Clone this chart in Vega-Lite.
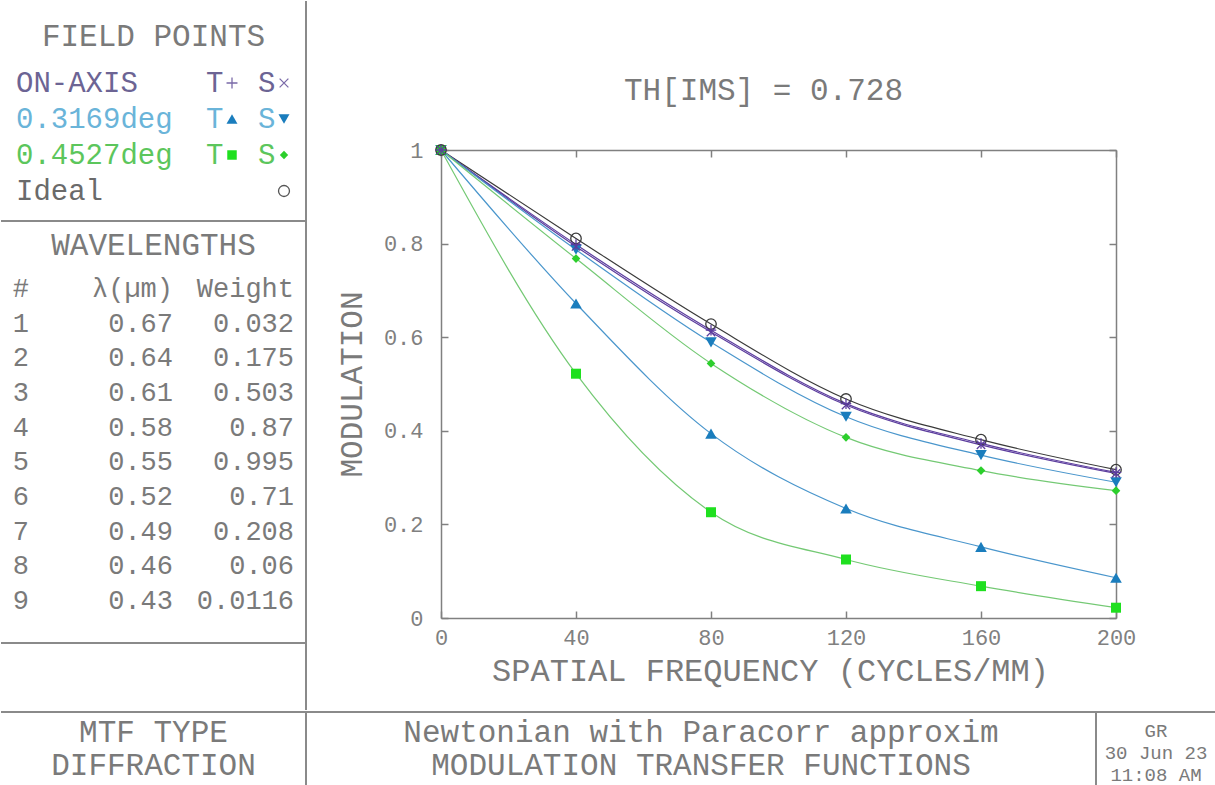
{
  "$schema": "https://vega.github.io/schema/vega-lite/v6.json",
  "padding": 0,
  "background": "white",
  "config": {
    "view": {"stroke": null},
    "font": "Liberation Mono",
    "axis": {"grid": false},
    "text": {"font": "Liberation Mono"}
  },
  "datasets": {
    "mtf": [
      {"series": "ideal", "freq": 0, "mtf": 1}, {"series": "ideal", "freq": 40, "mtf": 0.811}, {"series": "ideal", "freq": 80, "mtf": 0.628}, {"series": "ideal", "freq": 120, "mtf": 0.468}, {"series": "ideal", "freq": 160, "mtf": 0.381}, {"series": "ideal", "freq": 200, "mtf": 0.317},
      {"series": "onT", "freq": 0, "mtf": 1}, {"series": "onT", "freq": 40, "mtf": 0.798}, {"series": "onT", "freq": 80, "mtf": 0.615}, {"series": "onT", "freq": 120, "mtf": 0.458}, {"series": "onT", "freq": 160, "mtf": 0.373}, {"series": "onT", "freq": 200, "mtf": 0.311},
      {"series": "onS", "freq": 0, "mtf": 1}, {"series": "onS", "freq": 40, "mtf": 0.794}, {"series": "onS", "freq": 80, "mtf": 0.611}, {"series": "onS", "freq": 120, "mtf": 0.455}, {"series": "onS", "freq": 160, "mtf": 0.370}, {"series": "onS", "freq": 200, "mtf": 0.309},
      {"series": "f1T", "freq": 0, "mtf": 1}, {"series": "f1T", "freq": 40, "mtf": 0.672}, {"series": "f1T", "freq": 80, "mtf": 0.394}, {"series": "f1T", "freq": 120, "mtf": 0.234}, {"series": "f1T", "freq": 160, "mtf": 0.152}, {"series": "f1T", "freq": 200, "mtf": 0.086},
      {"series": "f1S", "freq": 0, "mtf": 1}, {"series": "f1S", "freq": 40, "mtf": 0.787}, {"series": "f1S", "freq": 80, "mtf": 0.589}, {"series": "f1S", "freq": 120, "mtf": 0.430}, {"series": "f1S", "freq": 160, "mtf": 0.348}, {"series": "f1S", "freq": 200, "mtf": 0.290},
      {"series": "f2T", "freq": 0, "mtf": 1}, {"series": "f2T", "freq": 40, "mtf": 0.522}, {"series": "f2T", "freq": 80, "mtf": 0.226}, {"series": "f2T", "freq": 120, "mtf": 0.125}, {"series": "f2T", "freq": 160, "mtf": 0.068}, {"series": "f2T", "freq": 200, "mtf": 0.022},
      {"series": "f2S", "freq": 0, "mtf": 1}, {"series": "f2S", "freq": 40, "mtf": 0.768}, {"series": "f2S", "freq": 80, "mtf": 0.544}, {"series": "f2S", "freq": 120, "mtf": 0.386}, {"series": "f2S", "freq": 160, "mtf": 0.315}, {"series": "f2S", "freq": 200, "mtf": 0.272}
    ],
    "fp": [
      {"r": 1, "c": 0, "t": "ON-AXIS", "g": "on"}, {"r": 1, "c": 1, "t": "T", "g": "on"}, {"r": 1, "c": 2, "t": "S", "g": "on"},
      {"r": 2, "c": 0, "t": "0.3169deg", "g": "f1"}, {"r": 2, "c": 1, "t": "T", "g": "f1"}, {"r": 2, "c": 2, "t": "S", "g": "f1"},
      {"r": 3, "c": 0, "t": "0.4527deg", "g": "f2"}, {"r": 3, "c": 1, "t": "T", "g": "f2"}, {"r": 3, "c": 2, "t": "S", "g": "f2"},
      {"r": 4, "c": 0, "t": "Ideal", "g": "ideal"}
    ],
    "fpm": [
      {"r": 1, "c": 1, "series": "onT"}, {"r": 1, "c": 2, "series": "onS"},
      {"r": 2, "c": 1, "series": "f1T"}, {"r": 2, "c": 2, "series": "f1S"},
      {"r": 3, "c": 1, "series": "f2T"}, {"r": 3, "c": 2, "series": "f2S"},
      {"r": 4, "c": 2, "series": "ideal"}
    ],
    "wl": [
      {"r": 0, "c": 1, "t": "#"}, {"r": 0, "c": 2, "t": "λ(µm)"}, {"r": 0, "c": 3, "t": "Weight"},
      {"r": 1, "c": 1, "t": "1"}, {"r": 1, "c": 2, "t": "0.67"}, {"r": 1, "c": 3, "t": "0.032"},
      {"r": 2, "c": 1, "t": "2"}, {"r": 2, "c": 2, "t": "0.64"}, {"r": 2, "c": 3, "t": "0.175"},
      {"r": 3, "c": 1, "t": "3"}, {"r": 3, "c": 2, "t": "0.61"}, {"r": 3, "c": 3, "t": "0.503"},
      {"r": 4, "c": 1, "t": "4"}, {"r": 4, "c": 2, "t": "0.58"}, {"r": 4, "c": 3, "t": "0.87"},
      {"r": 5, "c": 1, "t": "5"}, {"r": 5, "c": 2, "t": "0.55"}, {"r": 5, "c": 3, "t": "0.995"},
      {"r": 6, "c": 1, "t": "6"}, {"r": 6, "c": 2, "t": "0.52"}, {"r": 6, "c": 3, "t": "0.71"},
      {"r": 7, "c": 1, "t": "7"}, {"r": 7, "c": 2, "t": "0.49"}, {"r": 7, "c": 3, "t": "0.208"},
      {"r": 8, "c": 1, "t": "8"}, {"r": 8, "c": 2, "t": "0.46"}, {"r": 8, "c": 3, "t": "0.06"},
      {"r": 9, "c": 1, "t": "9"}, {"r": 9, "c": 2, "t": "0.43"}, {"r": 9, "c": 3, "t": "0.0116"}
    ]
  },
  "spacing": 0,
  "bounds": "full",
  "resolve": {"scale": {"x": "independent", "y": "independent", "color": "independent", "stroke": "independent", "fill": "independent", "shape": "independent"}},
  "vconcat": [
    {
      "hconcat": [
        {
          "vconcat": [
            {
              "width": 305, "height": 220,
              "layer": [
                {"data": {"values": [{}]}, "mark": {"type": "rule", "color": "#8a8a8a", "strokeWidth": 2}, "encoding": {"x": {"value": "width"}}},
                {"data": {"values": [{}]}, "mark": {"type": "rule", "color": "#8a8a8a", "strokeWidth": 2}, "encoding": {"y": {"value": "height"}}},
                {
                  "data": {"values": [{"r": 0, "t": "FIELD POINTS"}]},
                  "mark": {"type": "text", "fontSize": 31, "align": "center", "baseline": "middle", "yOffset": -10, "color": "#7a7a7a"},
                  "encoding": {
                    "y": {"field": "r", "type": "quantitative", "scale": {"domain": [1, 4], "range": [82, 190]}, "axis": null},
                    "text": {"field": "t"}
                  }
                },
                {
                  "data": {"name": "fp"},
                  "mark": {"type": "text", "fontSize": 29, "align": "left", "baseline": "middle"},
                  "encoding": {
                    "x": {"field": "c", "type": "quantitative", "scale": {"domain": [0, 1, 2], "range": [15, 205, 257]}, "axis": null},
                    "y": {"field": "r", "type": "quantitative", "scale": {"domain": [1, 4], "range": [82, 190]}, "axis": null},
                    "text": {"field": "t"},
                    "color": {"field": "g", "type": "nominal", "scale": {"domain": ["on", "f1", "f2", "ideal"], "range": ["#6c6494", "#6ab4d9", "#5cc65c", "#6a6a6a"]}, "legend": null}
                  }
                },
                {
                  "data": {"name": "fpm"},
                  "transform": [{"filter": {"field": "series", "oneOf": ["f1T", "f1S"]}}],
                  "mark": {"type": "point", "filled": true, "opacity": 1, "size": 120, "strokeWidth": 0, "xOffset": 26},
                  "encoding": {
                    "x": {"field": "c", "type": "quantitative", "scale": {"domain": [0, 1, 2], "range": [15, 205, 257]}, "axis": null},
                    "y": {"field": "r", "type": "quantitative", "scale": {"domain": [1, 4], "range": [82, 190]}, "axis": null},
                    "shape": {"field": "series", "type": "nominal", "scale": {"domain": ["onT", "onS", "f1T", "f1S", "f2T", "f2S", "ideal"], "range": ["M-1,0L1,0M0,-1L0,1", "M-0.8,-0.8L0.8,0.8M-0.8,0.8L0.8,-0.8", "triangle-up", "triangle-down", "square", "diamond", "circle"]}, "legend": null},
                    "fill": {"field": "series", "type": "nominal", "scale": {"domain": ["f1T", "f1S", "f2T", "f2S"], "range": ["#1a7dbd", "#1a7dbd", "#1fe01f", "#2ccf2c"]}, "legend": null}
                  }
                },
                {
                  "data": {"name": "fpm"},
                  "transform": [{"filter": {"field": "series", "oneOf": ["f2T"]}}],
                  "mark": {"type": "point", "filled": true, "opacity": 1, "size": 90, "strokeWidth": 0, "xOffset": 26},
                  "encoding": {
                    "x": {"field": "c", "type": "quantitative", "scale": {"domain": [0, 1, 2], "range": [15, 205, 257]}, "axis": null},
                    "y": {"field": "r", "type": "quantitative", "scale": {"domain": [1, 4], "range": [82, 190]}, "axis": null},
                    "shape": {"field": "series", "type": "nominal", "scale": {"domain": ["onT", "onS", "f1T", "f1S", "f2T", "f2S", "ideal"], "range": ["M-1,0L1,0M0,-1L0,1", "M-0.8,-0.8L0.8,0.8M-0.8,0.8L0.8,-0.8", "triangle-up", "triangle-down", "square", "diamond", "circle"]}, "legend": null},
                    "fill": {"field": "series", "type": "nominal", "scale": {"domain": ["f1T", "f1S", "f2T", "f2S"], "range": ["#1a7dbd", "#1a7dbd", "#1fe01f", "#2ccf2c"]}, "legend": null}
                  }
                },
                {
                  "data": {"name": "fpm"},
                  "transform": [{"filter": {"field": "series", "oneOf": ["f2S"]}}],
                  "mark": {"type": "point", "filled": true, "opacity": 1, "size": 70, "strokeWidth": 0, "xOffset": 26},
                  "encoding": {
                    "x": {"field": "c", "type": "quantitative", "scale": {"domain": [0, 1, 2], "range": [15, 205, 257]}, "axis": null},
                    "y": {"field": "r", "type": "quantitative", "scale": {"domain": [1, 4], "range": [82, 190]}, "axis": null},
                    "shape": {"field": "series", "type": "nominal", "scale": {"domain": ["onT", "onS", "f1T", "f1S", "f2T", "f2S", "ideal"], "range": ["M-1,0L1,0M0,-1L0,1", "M-0.8,-0.8L0.8,0.8M-0.8,0.8L0.8,-0.8", "triangle-up", "triangle-down", "square", "diamond", "circle"]}, "legend": null},
                    "fill": {"field": "series", "type": "nominal", "scale": {"domain": ["f1T", "f1S", "f2T", "f2S"], "range": ["#1a7dbd", "#1a7dbd", "#1fe01f", "#2ccf2c"]}, "legend": null}
                  }
                },
                {
                  "data": {"name": "fpm"},
                  "transform": [{"filter": {"field": "series", "oneOf": ["onT", "onS", "ideal"]}}],
                  "mark": {"type": "point", "filled": false, "opacity": 1, "size": 120, "strokeWidth": 1.3, "xOffset": 26},
                  "encoding": {
                    "x": {"field": "c", "type": "quantitative", "scale": {"domain": [0, 1, 2], "range": [15, 205, 257]}, "axis": null},
                    "y": {"field": "r", "type": "quantitative", "scale": {"domain": [1, 4], "range": [82, 190]}, "axis": null},
                    "shape": {"field": "series", "type": "nominal", "scale": {"domain": ["onT", "onS", "f1T", "f1S", "f2T", "f2S", "ideal"], "range": ["M-1,0L1,0M0,-1L0,1", "M-0.8,-0.8L0.8,0.8M-0.8,0.8L0.8,-0.8", "triangle-up", "triangle-down", "square", "diamond", "circle"]}, "legend": null},
                    "stroke": {"field": "series", "type": "nominal", "scale": {"domain": ["onT", "onS", "ideal"], "range": ["#7a6aa8", "#7a6aa8", "#555555"]}, "legend": null}
                  }
                }
              ]
            },
            {
              "width": 305, "height": 422,
              "layer": [
                {"data": {"values": [{}]}, "mark": {"type": "rule", "color": "#8a8a8a", "strokeWidth": 2}, "encoding": {"x": {"value": "width"}}},
                {"data": {"values": [{}]}, "mark": {"type": "rule", "color": "#8a8a8a", "strokeWidth": 2}, "encoding": {"y": {"value": "height"}}},
                {
                  "data": {"values": [{"r": -1, "t": "WAVELENGTHS"}]},
                  "mark": {"type": "text", "fontSize": 31, "align": "center", "baseline": "middle", "yOffset": -8, "color": "#7a7a7a"},
                  "encoding": {
                    "y": {"field": "r", "type": "quantitative", "scale": {"domain": [0, 9], "range": [68, 380]}, "axis": null},
                    "text": {"field": "t"}
                  }
                },
                {
                  "data": {"name": "wl"},
                  "mark": {"type": "text", "fontSize": 27, "align": "right", "baseline": "middle", "color": "#7a7a7a"},
                  "encoding": {
                    "x": {"field": "c", "type": "quantitative", "scale": {"domain": [1, 2, 3], "range": [28, 172, 293]}, "axis": null},
                    "y": {"field": "r", "type": "quantitative", "scale": {"domain": [0, 9], "range": [68, 380]}, "axis": null},
                    "text": {"field": "t"}
                  }
                }
              ]
            },
            {
              "width": 305, "height": 67,
              "layer": [
                {"data": {"values": [{}]}, "mark": {"type": "rule", "color": "#8a8a8a", "strokeWidth": 2}, "encoding": {"x": {"value": "width"}}}
              ]
            }
          ],
          "spacing": 0,
          "bounds": "flush",
          "resolve": {"scale": {"x": "independent", "y": "independent", "color": "independent", "stroke": "independent", "fill": "independent", "shape": "independent"}}
        },
        {
          "width": 809, "height": 709,
          "data": {"name": "mtf"},
          "title": {"text": "TH[IMS] = 0.728", "font": "Liberation Mono", "fontSize": 31, "fontWeight": "normal", "color": "#7a7a7a", "anchor": "middle", "dx": 52, "offset": -106},
          "resolve": {"axis": {"x": "independent", "y": "independent"}},
          "layer": [
            {
              "mark": {"type": "line", "interpolate": "monotone", "strokeWidth": 1.2},
              "encoding": {
                "x": {"field": "freq", "type": "quantitative", "scale": {"domain": [0, 200], "range": [134, 809]},
                  "axis": {"orient": "bottom", "offset": -92, "values": [0, 40, 80, 120, 160, 200], "title": "SPATIAL FREQUENCY (CYCLES/MM)", "titleX": 463, "tickSize": -7, "tickColor": "#808080", "tickWidth": 1.5, "domainColor": "#808080", "domainWidth": 1.5, "labelFont": "Liberation Mono", "labelFontSize": 22, "labelColor": "#808080", "labelPadding": 16, "labelFlush": false, "labelOverlap": false, "titleFont": "Liberation Mono", "titleFontSize": 32, "titleFontWeight": "normal", "titleColor": "#7a7a7a", "titlePadding": 7}},
                "y": {"field": "mtf", "type": "quantitative", "scale": {"domain": [0, 1], "range": [617, 149]},
                  "axis": {"orient": "left", "offset": -134, "values": [0, 0.2, 0.4, 0.6, 0.8, 1], "format": "~g", "title": "MODULATION", "tickSize": -7, "tickColor": "#808080", "tickWidth": 1.5, "domainColor": "#808080", "domainWidth": 1.5, "labelFont": "Liberation Mono", "labelFontSize": 22, "labelColor": "#808080", "labelPadding": 25, "labelFlush": false, "labelOverlap": false, "titleFont": "Liberation Mono", "titleFontSize": 31, "titleFontWeight": "normal", "titleColor": "#7a7a7a", "titlePadding": 15}},
                "stroke": {"field": "series", "type": "nominal", "scale": {"domain": ["onT", "onS", "f1T", "f1S", "f2T", "f2S", "ideal"], "range": ["#5c3d9e", "#5c3d9e", "#4a96cc", "#4a96cc", "#74c974", "#74c974", "#3a3a3a"]}, "legend": null}
              }
            },
            {
              "mark": {"type": "point", "opacity": 0},
              "encoding": {
                "x": {"field": "freq", "type": "quantitative", "scale": {"domain": [0, 200], "range": [134, 809]}, "axis": {"orient": "top", "offset": -149, "values": [0, 40, 80, 120, 160, 200], "labels": false, "title": null, "tickSize": -7, "tickColor": "#808080", "tickWidth": 1.5, "domainColor": "#808080", "domainWidth": 1.5}},
                "y": {"field": "mtf", "type": "quantitative", "scale": {"domain": [0, 1], "range": [617, 149]}, "axis": {"orient": "right", "values": [0, 0.2, 0.4, 0.6, 0.8, 1], "labels": false, "title": null, "tickSize": -7, "tickColor": "#808080", "tickWidth": 1.5, "domainColor": "#808080", "domainWidth": 1.5}}
              }
            },
            {
              "transform": [{"filter": {"field": "series", "oneOf": ["f1T", "f1S"]}}],
              "mark": {"type": "point", "filled": true, "opacity": 1, "size": 135, "strokeWidth": 0},
              "encoding": {
                "x": {"field": "freq", "type": "quantitative", "axis": null},
                "y": {"field": "mtf", "type": "quantitative", "axis": null},
                "shape": {"field": "series", "type": "nominal", "scale": {"domain": ["onT", "onS", "f1T", "f1S", "f2T", "f2S", "ideal"], "range": ["M-1,0L1,0M0,-1L0,1", "M-0.8,-0.8L0.8,0.8M-0.8,0.8L0.8,-0.8", "triangle-up", "triangle-down", "square", "diamond", "circle"]}, "legend": null},
                "fill": {"field": "series", "type": "nominal", "scale": {"domain": ["f1T", "f1S", "f2T", "f2S"], "range": ["#1a7dbd", "#1a7dbd", "#1fe01f", "#2ccf2c"]}, "legend": null}
              }
            },
            {
              "transform": [{"filter": {"field": "series", "oneOf": ["f2T"]}}],
              "mark": {"type": "point", "filled": true, "opacity": 1, "size": 100, "strokeWidth": 0},
              "encoding": {
                "x": {"field": "freq", "type": "quantitative", "axis": null},
                "y": {"field": "mtf", "type": "quantitative", "axis": null},
                "shape": {"field": "series", "type": "nominal", "scale": {"domain": ["onT", "onS", "f1T", "f1S", "f2T", "f2S", "ideal"], "range": ["M-1,0L1,0M0,-1L0,1", "M-0.8,-0.8L0.8,0.8M-0.8,0.8L0.8,-0.8", "triangle-up", "triangle-down", "square", "diamond", "circle"]}, "legend": null},
                "fill": {"field": "series", "type": "nominal", "scale": {"domain": ["f1T", "f1S", "f2T", "f2S"], "range": ["#1a7dbd", "#1a7dbd", "#1fe01f", "#2ccf2c"]}, "legend": null}
              }
            },
            {
              "transform": [{"filter": {"field": "series", "oneOf": ["f2S"]}}],
              "mark": {"type": "point", "filled": true, "opacity": 1, "size": 75, "strokeWidth": 0},
              "encoding": {
                "x": {"field": "freq", "type": "quantitative", "axis": null},
                "y": {"field": "mtf", "type": "quantitative", "axis": null},
                "shape": {"field": "series", "type": "nominal", "scale": {"domain": ["onT", "onS", "f1T", "f1S", "f2T", "f2S", "ideal"], "range": ["M-1,0L1,0M0,-1L0,1", "M-0.8,-0.8L0.8,0.8M-0.8,0.8L0.8,-0.8", "triangle-up", "triangle-down", "square", "diamond", "circle"]}, "legend": null},
                "fill": {"field": "series", "type": "nominal", "scale": {"domain": ["f1T", "f1S", "f2T", "f2S"], "range": ["#1a7dbd", "#1a7dbd", "#1fe01f", "#2ccf2c"]}, "legend": null}
              }
            },
            {
              "transform": [{"filter": {"field": "series", "oneOf": ["onT", "onS", "ideal"]}}],
              "mark": {"type": "point", "filled": false, "opacity": 1, "size": 110, "strokeWidth": 1.3},
              "encoding": {
                "x": {"field": "freq", "type": "quantitative", "axis": null},
                "y": {"field": "mtf", "type": "quantitative", "axis": null},
                "shape": {"field": "series", "type": "nominal", "scale": {"domain": ["onT", "onS", "f1T", "f1S", "f2T", "f2S", "ideal"], "range": ["M-1,0L1,0M0,-1L0,1", "M-0.8,-0.8L0.8,0.8M-0.8,0.8L0.8,-0.8", "triangle-up", "triangle-down", "square", "diamond", "circle"]}, "legend": null},
                "stroke": {"field": "series", "type": "nominal", "scale": {"domain": ["onT", "onS", "f1T", "f1S", "f2T", "f2S", "ideal"], "range": ["#5c3d9e", "#5c3d9e", "#4a96cc", "#4a96cc", "#74c974", "#74c974", "#3a3a3a"]}, "legend": null}
              }
            }
          ]
        }
      ],
      "spacing": 0,
      "bounds": "full",
      "resolve": {"scale": {"x": "independent", "y": "independent", "color": "independent", "stroke": "independent", "fill": "independent", "shape": "independent"}}
    },
    {
      "hconcat": [
        {
          "width": 305, "height": 73,
          "layer": [
            {"data": {"values": [{}]}, "mark": {"type": "rule", "color": "#8a8a8a", "strokeWidth": 2}, "encoding": {"y": {"value": 0}}},
            {"data": {"values": [{}]}, "mark": {"type": "rule", "color": "#8a8a8a", "strokeWidth": 2}, "encoding": {"x": {"value": "width"}}},
            {
              "data": {"values": [{"r": 0, "t": "MTF TYPE"}, {"r": 1, "t": "DIFFRACTION"}]},
              "mark": {"type": "text", "fontSize": 31, "align": "center", "baseline": "middle", "color": "#7a7a7a"},
              "encoding": {
                "y": {"field": "r", "type": "quantitative", "scale": {"domain": [0, 1], "range": [21, 54]}, "axis": null},
                "text": {"field": "t"}
              }
            }
          ]
        },
        {
          "width": 790, "height": 73,
          "layer": [
            {"data": {"values": [{}]}, "mark": {"type": "rule", "color": "#8a8a8a", "strokeWidth": 2}, "encoding": {"y": {"value": 0}}},
            {"data": {"values": [{}]}, "mark": {"type": "rule", "color": "#8a8a8a", "strokeWidth": 2}, "encoding": {"x": {"value": "width"}}},
            {
              "data": {"values": [{"r": 0, "t": "Newtonian with Paracorr approxim"}, {"r": 1, "t": "MODULATION TRANSFER FUNCTIONS"}]},
              "mark": {"type": "text", "fontSize": 31, "align": "center", "baseline": "middle", "color": "#7a7a7a"},
              "encoding": {
                "y": {"field": "r", "type": "quantitative", "scale": {"domain": [0, 1], "range": [21, 54]}, "axis": null},
                "text": {"field": "t"}
              }
            }
          ]
        },
        {
          "width": 120, "height": 73,
          "layer": [
            {"data": {"values": [{}]}, "mark": {"type": "rule", "color": "#8a8a8a", "strokeWidth": 2}, "encoding": {"y": {"value": 0}}},
            {
              "data": {"values": [{"r": 0, "t": "GR"}, {"r": 1, "t": "30 Jun 23"}, {"r": 2, "t": "11:08 AM"}]},
              "mark": {"type": "text", "fontSize": 19, "align": "center", "baseline": "middle", "color": "#7a7a7a"},
              "encoding": {
                "y": {"field": "r", "type": "quantitative", "scale": {"domain": [0, 2], "range": [19, 63]}, "axis": null},
                "text": {"field": "t"}
              }
            }
          ]
        }
      ],
      "spacing": 0,
      "bounds": "flush",
      "resolve": {"scale": {"x": "independent", "y": "independent", "color": "independent", "stroke": "independent", "fill": "independent", "shape": "independent"}}
    }
  ]
}
